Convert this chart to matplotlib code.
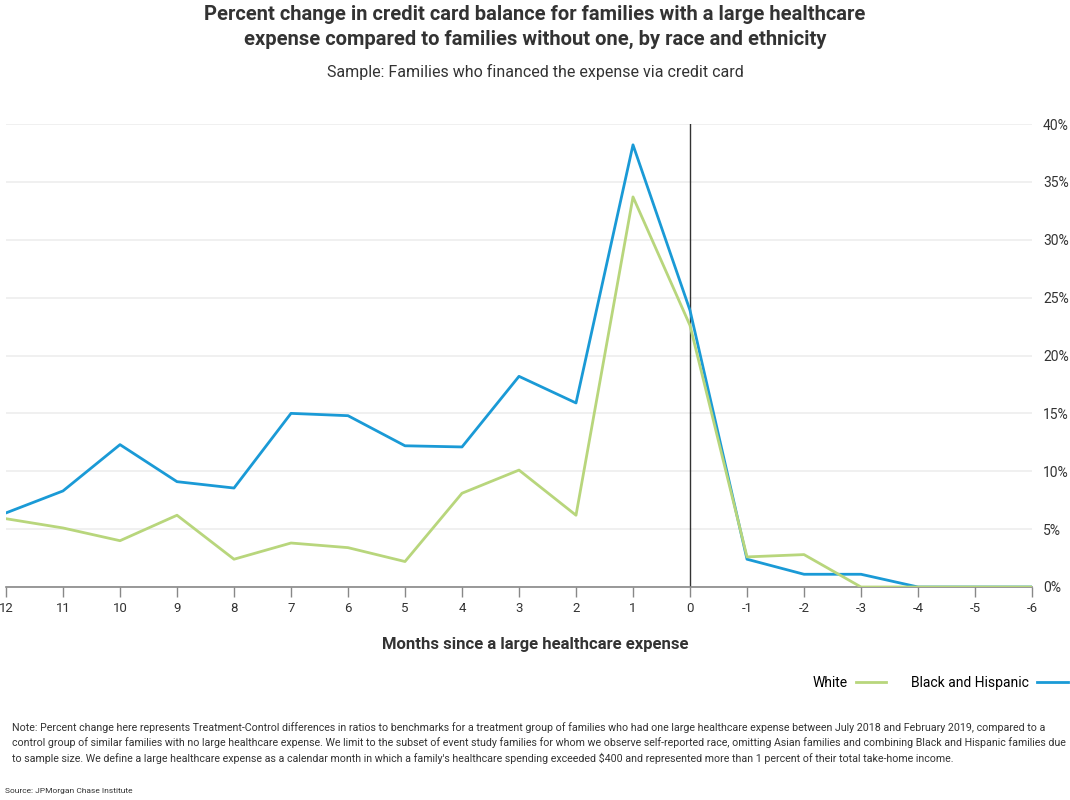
import matplotlib
matplotlib.use("Agg")
import matplotlib.pyplot as plt
from matplotlib.lines import Line2D

plt.rcParams['font.family'] = ['Roboto', 'DejaVu Sans']

months = [12, 11, 10, 9, 8, 7, 6, 5, 4, 3, 2, 1, 0, -1, -2, -3, -4, -5, -6]
black_hispanic = [6.4, 8.3, 12.3, 9.1, 8.55, 15.0, 14.8, 12.2, 12.1, 18.2, 15.9, 38.2, 23.9, 2.4, 1.1, 1.1, 0.0, 0.0, 0.0]
white = [5.9, 5.1, 4.0, 6.2, 2.4, 3.8, 3.4, 2.2, 8.1, 10.1, 6.2, 33.7, 22.6, 2.6, 2.8, 0.0, 0.0, 0.0, 0.0]
y_ticks = [0, 5, 10, 15, 20, 25, 30, 35, 40]
y_tick_labels = ["0%", "5%", "10%", "15%", "20%", "25%", "30%", "35%", "40%"]

BLUE = "#1a9ad6"
GREEN = "#b8d67c"

W, H = 1070, 800
fig = plt.figure(figsize=(W / 100, H / 100), dpi=100)
ax = fig.add_axes([6 / W, 1 - 587 / H, (1032 - 6) / W, (587 - 124) / H])

ax.plot(months, black_hispanic, color=BLUE, lw=2.0, zorder=3)
ax.plot(months, white, color=GREEN, lw=2.0, zorder=3)
ax.axvline(0, color="#333333", lw=1.0, zorder=2)

ax.set_xlim(12, -6)
ax.set_ylim(0, 40)
ax.set_xticks(months)
ax.set_xticklabels([str(m) for m in months], fontsize=9.5, color="#333333")
ax.set_yticks(y_ticks)
ax.set_yticklabels(y_tick_labels, fontsize=10, color="#333333")
ax.yaxis.tick_right()
ax.tick_params(axis='y', length=0, pad=8)
ax.tick_params(axis='x', length=7, width=1, color="#888888", pad=4, direction='out')
for s in ['top', 'left', 'right']:
    ax.spines[s].set_visible(False)
ax.spines['bottom'].set_color("#888888")
ax.spines['bottom'].set_linewidth(1.2)
ax.grid(axis='y', color="#eeeeee", lw=1.2, zorder=0)
ax.set_axisbelow(True)

fig.text(535 / W, 1 - 27 / H, "Percent change in credit card balance for families with a large healthcare\nexpense compared to families without one, by race and ethnicity",
         ha='center', va='center', fontsize=14.5, fontweight='bold', color="#333333", linespacing=1.35)
fig.text(535 / W, 1 - 72 / H, "Sample: Families who financed the expense via credit card",
         ha='center', va='center', fontsize=11.5, color="#333333")
fig.text(535 / W, 1 - 645 / H, "Months since a large healthcare expense",
         ha='center', va='center', fontsize=12, fontweight='bold', color="#333333")

handles = [Line2D([], [], color=GREEN, lw=2), Line2D([], [], color=BLUE, lw=2)]
fig.legend(handles, ["White", "Black and Hispanic"], loc='center right',
           bbox_to_anchor=(1068 / W, 1 - 683 / H), ncol=2, frameon=False,
           markerfirst=False, fontsize=10, handlelength=2.2, columnspacing=1.8,
           handletextpad=0.6, borderaxespad=0, borderpad=0)

note = ("Note: Percent change here represents Treatment-Control differences in ratios to benchmarks for a treatment group of families who had one large healthcare expense between July 2018 and February 2019, compared to a\n"
        "control group of similar families with no large healthcare expense. We limit to the subset of event study families for whom we observe self-reported race, omitting Asian families and combining Black and Hispanic families due\n"
        "to sample size. We define a large healthcare expense as a calendar month in which a family's healthcare spending exceeded $400 and represented more than 1 percent of their total take-home income.")
fig.text(1066 / W, 1 - 743 / H, note, ha='right', va='center', fontsize=7.65, color="#333333", linespacing=1.5, multialignment='left')
fig.text(5 / W, 1 - 791 / H, "Source: JPMorgan Chase Institute", ha='left', va='center', fontsize=6, color="#333333")

fig.savefig("out.png", dpi=100)
